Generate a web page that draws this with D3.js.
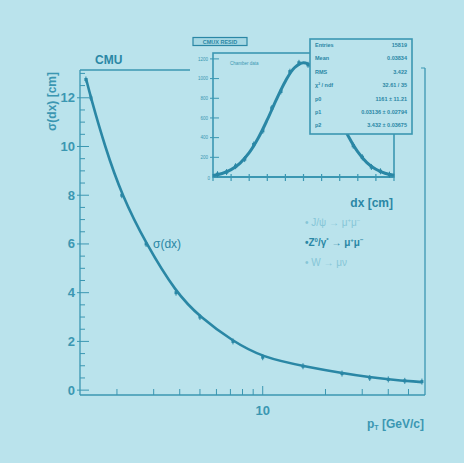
<!DOCTYPE html>
<html>
<head>
<meta charset="utf-8">
<script src="https://cdn.jsdelivr.net/npm/d3@7"></script>
<style>
  body { margin: 0; background: #bae3ec; }
  svg text { font-family: "Liberation Sans", Arial, sans-serif; }
</style>
</head>
<body>
<svg id="chart" width="464" height="463"></svg>
<script>
// main plot: sigma(dx) vs pT, fitted curve
const fitPt = [1.42, 1.5, 1.75, 2.11, 2.76, 3.84, 5.0, 7.2, 10, 15.6, 32.6, 58];
const fitSigma = [12.8, 12.0, 10.0, 8.0, 6.0, 4.0, 3.0, 2.0, 1.35, 0.98, 0.5, 0.33];
// measured points
const ptValues = [1.42, 1.5, 2.11, 2.76, 3.84, 5.0, 7.2, 10, 15.6, 24, 32.6, 40, 48, 58];
const sigmaValues = [12.75, 12.0, 8.0, 6.0, 4.0, 3.0, 2.0, 1.35, 0.98, 0.68, 0.5, 0.44, 0.38, 0.35];
const yTicks = [0, 2, 4, 6, 8, 10, 12];
const xMinorTicks = [2, 3, 4, 5, 6, 7, 8, 9, 20, 30, 40, 50];
const xMajorTicks = [10];

// inset: dx distribution with gaussian fit
const dxBins = [-9.5, -8.5, -7.5, -6.5, -5.5, -4.5, -3.5, -2.5, -1.5, -0.5, 0.5, 1.5, 2.5, 3.5, 4.5, 5.5, 6.5, 7.5, 8.5, 9.5];
const dxCounts = [28, 50, 110, 182, 330, 470, 700, 870, 1070, 1160, 1140, 1045, 910, 690, 505, 318, 200, 102, 58, 24];
const fitX = [-10, -9, -8, -7, -6, -5, -4, -3, -2, -1, 0, 1, 2, 3, 4, 5, 6, 7, 8, 9, 10];
const fitY = [16, 36, 75, 142, 247, 396, 582, 786, 974, 1110, 1161, 1116, 984, 798, 594, 406, 255, 147, 78, 38, 17];
const insetYTicks = [200, 400, 600, 800, 1000, 1200];
const insetXTicks = [-10, -8, -6, -4, -2, 0, 2, 4, 6, 8, 10];
const statLabels = ["Entries", "Mean", "RMS", "\u03c7\u00b2 / ndf", "p0", "p1", "p2"];
const statValues = ["15819", "0.03834", "3.422", "32.61 / 35", "1161 \u00b1 11.21", "0.03136 \u00b1 0.02794", "3.432 \u00b1 0.03675"];

const dark = "#2a87a5";
const mid = "#3b97b2";
const faint = "#86c6d7";

const svg = d3.select("#chart");

let x = d3.scaleLog().domain([1.33, 60]).range([80, 425]);
let y = d3.scaleLinear().domain([-0.2, 13.14]).range([395, 70]);

/**
 * frame of main plot
 */
svg.append("line").attr("x1", 80).attr("x2", 80).attr("y1", 70).attr("y2", 395)
  .attr("stroke", mid).attr("stroke-width", 1.3);
svg.append("line").attr("x1", 80).attr("x2", 425).attr("y1", 395).attr("y2", 395)
  .attr("stroke", mid).attr("stroke-width", 1.3);
svg.append("line").attr("x1", 80).attr("x2", 190).attr("y1", 70).attr("y2", 70)
  .attr("stroke", mid).attr("stroke-width", 1.3);
svg.append("line").attr("x1", 425).attr("x2", 425).attr("y1", 68).attr("y2", 395)
  .attr("stroke", mid).attr("stroke-width", 1.3);
svg.append("line").attr("x1", 421).attr("x2", 425).attr("y1", 68).attr("y2", 68)
  .attr("stroke", mid).attr("stroke-width", 1);

// y ticks
let yMinor = d3.range(0, 13.01, 0.5);
svg.append("g").selectAll("line").data(yMinor).enter().append("line")
  .attr("x1", 80).attr("x2", (d) => (d % 2 === 0 ? 89 : 85))
  .attr("y1", (d) => y(d)).attr("y2", (d) => y(d))
  .attr("stroke", mid).attr("stroke-width", 1);
svg.append("g").selectAll("line").data(yTicks).enter().append("line")
  .attr("x1", 77).attr("x2", 80)
  .attr("y1", (d) => y(d)).attr("y2", (d) => y(d))
  .attr("stroke", mid).attr("stroke-width", 1);
svg.append("g").selectAll("text").data(yTicks).enter().append("text")
  .attr("x", 75).attr("y", (d) => y(d) + 4.5)
  .attr("text-anchor", "end").attr("font-size", 13).attr("font-weight", "bold")
  .attr("fill", mid).text((d) => d);

// x ticks
svg.append("g").selectAll("line").data(xMinorTicks).enter().append("line")
  .attr("x1", (d) => x(d)).attr("x2", (d) => x(d))
  .attr("y1", 395).attr("y2", 389)
  .attr("stroke", mid).attr("stroke-width", 1);
svg.append("g").selectAll("line").data(xMajorTicks).enter().append("line")
  .attr("x1", (d) => x(d)).attr("x2", (d) => x(d))
  .attr("y1", 395).attr("y2", 386)
  .attr("stroke", mid).attr("stroke-width", 1);
svg.append("g").selectAll("text").data(xMajorTicks).enter().append("text")
  .attr("x", (d) => x(d)).attr("y", 415)
  .attr("text-anchor", "middle").attr("font-size", 13).attr("font-weight", "bold")
  .attr("fill", mid).text((d) => d);

// axis titles
svg.append("text").attr("transform", "translate(56,72) rotate(-90)")
  .attr("text-anchor", "end").attr("font-size", 12).attr("font-weight", "bold")
  .attr("fill", mid).text("\u03c3(dx) [cm]");
let xTitle = svg.append("text").attr("x", 424).attr("y", 428)
  .attr("text-anchor", "end").attr("font-size", 12).attr("font-weight", "bold")
  .attr("fill", mid);
xTitle.append("tspan").text("p");
xTitle.append("tspan").attr("font-size", 7).attr("dy", 2).text("T");
xTitle.append("tspan").attr("dy", -2).text(" [GeV/c]");

svg.append("text").attr("x", 95).attr("y", 64).attr("font-size", 12)
  .attr("font-weight", "bold").attr("fill", dark).text("CMU");

/**
 * resolution curve and points
 */
let fitData = fitPt.map((p, i) => ({ pt: p, s: fitSigma[i] }));
let mainData = ptValues.map((p, i) => ({ pt: p, s: sigmaValues[i] }));
svg.append("g").selectAll("line").data(mainData).enter().append("line")
  .attr("x1", (d) => x(d.pt)).attr("x2", (d) => x(d.pt))
  .attr("y1", (d) => y(d.s) - 3).attr("y2", (d) => y(d.s) + 3)
  .attr("stroke", dark).attr("stroke-width", 1);
svg.append("g").selectAll("rect").data(mainData).enter().append("rect")
  .attr("x", (d) => x(d.pt) - 1.5).attr("y", (d) => y(d.s) - 1.5)
  .attr("width", 3).attr("height", 3).attr("fill", dark);
svg.append("path").datum(fitData)
  .attr("fill", "none").attr("stroke", dark).attr("stroke-width", 2.6)
  .attr("d", d3.line().x((d) => x(d.pt)).y((d) => y(d.s)).curve(d3.curveBasis));

svg.append("text").attr("x", 153).attr("y", 248).attr("font-size", 12)
  .attr("fill", dark).text("\u03c3(dx)");

/**
 * inset histogram
 */
let ix = d3.scaleLinear().domain([-10, 10]).range([213, 394]);
let iy = d3.scaleLinear().domain([0, 1260]).range([177, 53]);
let inset = svg.append("g");

inset.append("rect").attr("x", 213).attr("y", 53).attr("width", 181).attr("height", 124)
  .attr("fill", "none").attr("stroke", mid).attr("stroke-width", 1.6);

inset.append("g").selectAll("line").data(insetXTicks).enter().append("line")
  .attr("x1", (d) => ix(d)).attr("x2", (d) => ix(d))
  .attr("y1", 174).attr("y2", 181).attr("stroke", mid).attr("stroke-width", 1.2);
inset.append("line").attr("x1", 213).attr("x2", 394).attr("y1", 177).attr("y2", 177)
  .attr("stroke", mid).attr("stroke-width", 2);
inset.append("g").selectAll("line").data(insetYTicks).enter().append("line")
  .attr("x1", 210).attr("x2", 219)
  .attr("y1", (d) => iy(d)).attr("y2", (d) => iy(d))
  .attr("stroke", mid).attr("stroke-width", 1);
inset.append("g").selectAll("text").data(insetYTicks).enter().append("text")
  .attr("x", 208).attr("y", (d) => iy(d) + 1.8)
  .attr("text-anchor", "end").attr("font-size", 4.5).attr("fill", mid)
  .text((d) => d);
inset.append("text").attr("x", 210).attr("y", 180).attr("text-anchor", "end")
  .attr("font-size", 4.5).attr("fill", mid).text("0");

inset.append("path").datum(fitX.map((v, i) => ({ x: v, y: fitY[i] })))
  .attr("fill", "none").attr("stroke", dark).attr("stroke-width", 3)
  .attr("d", d3.line().x((d) => ix(d.x)).y((d) => iy(d.y)).curve(d3.curveCatmullRom));

let insetData = dxBins.map((v, i) => ({ x: v, y: dxCounts[i] }));
inset.append("g").selectAll("line").data(insetData).enter().append("line")
  .attr("x1", (d) => ix(d.x)).attr("x2", (d) => ix(d.x))
  .attr("y1", (d) => iy(d.y) - 3).attr("y2", (d) => iy(d.y) + 3)
  .attr("stroke", dark).attr("stroke-width", 1);
inset.append("g").selectAll("rect").data(insetData).enter().append("rect")
  .attr("x", (d) => ix(d.x) - 1.6).attr("y", (d) => iy(d.y) - 1.6)
  .attr("width", 3.2).attr("height", 3.2).attr("fill", dark);

inset.append("text").attr("x", 230).attr("y", 65).attr("font-size", 4.5)
  .attr("fill", mid).text("Chamber data");

// title box
inset.append("rect").attr("x", 193).attr("y", 37.5).attr("width", 54).attr("height", 8)
  .attr("fill", "#a6d8e4").attr("stroke", dark).attr("stroke-width", 1.2);
inset.append("text").attr("x", 220).attr("y", 44).attr("text-anchor", "middle")
  .attr("font-size", 5.5).attr("font-weight", "bold").attr("fill", dark).text("CMUX RESID");

// stats box
inset.append("rect").attr("x", 310).attr("y", 39).attr("width", 102).attr("height", 95)
  .attr("fill", "#bae3ec").attr("stroke", mid).attr("stroke-width", 1.6);
inset.append("g").selectAll("text").data(statLabels).enter().append("text")
  .attr("x", 315).attr("y", (d, i) => 47 + i * 13.4)
  .attr("font-size", 5.5).attr("font-weight", "bold").attr("fill", dark).text((d) => d);
inset.append("g").selectAll("text").data(statValues).enter().append("text")
  .attr("x", 407).attr("y", (d, i) => 47 + i * 13.4).attr("text-anchor", "end")
  .attr("font-size", 5.5).attr("font-weight", "bold").attr("fill", dark).text((d) => d);

svg.append("text").attr("x", 393).attr("y", 207).attr("text-anchor", "end")
  .attr("font-size", 12).attr("font-weight", "bold").attr("fill", dark).text("dx [cm]");

/**
 * legend
 */
let l1 = svg.append("text").attr("x", 305).attr("y", 226).attr("font-size", 10).attr("fill", faint);
l1.append("tspan").text("\u2022 J/\u03c8 \u2192 \u03bc");
l1.append("tspan").attr("font-size", 6).attr("dy", -4).text("+");
l1.append("tspan").attr("dy", 4).text("\u03bc");
l1.append("tspan").attr("font-size", 6).attr("dy", -4).text("\u2212");

let l2 = svg.append("text").attr("x", 305).attr("y", 246).attr("font-size", 10)
  .attr("font-weight", "bold").attr("fill", dark);
l2.append("tspan").text("\u2022Z");
l2.append("tspan").attr("font-size", 6).attr("dy", -4).text("0");
l2.append("tspan").attr("dy", 4).text("/\u03b3");
l2.append("tspan").attr("font-size", 6).attr("dy", -4).text("*");
l2.append("tspan").attr("dy", 4).text(" \u2192 \u03bc");
l2.append("tspan").attr("font-size", 6).attr("dy", -4).text("+");
l2.append("tspan").attr("dy", 4).text("\u03bc");
l2.append("tspan").attr("font-size", 6).attr("dy", -4).text("\u2212");

svg.append("text").attr("x", 305).attr("y", 266).attr("font-size", 10).attr("fill", faint)
  .text("\u2022 W \u2192 \u03bc\u03bd");
</script>
</body>
</html>
